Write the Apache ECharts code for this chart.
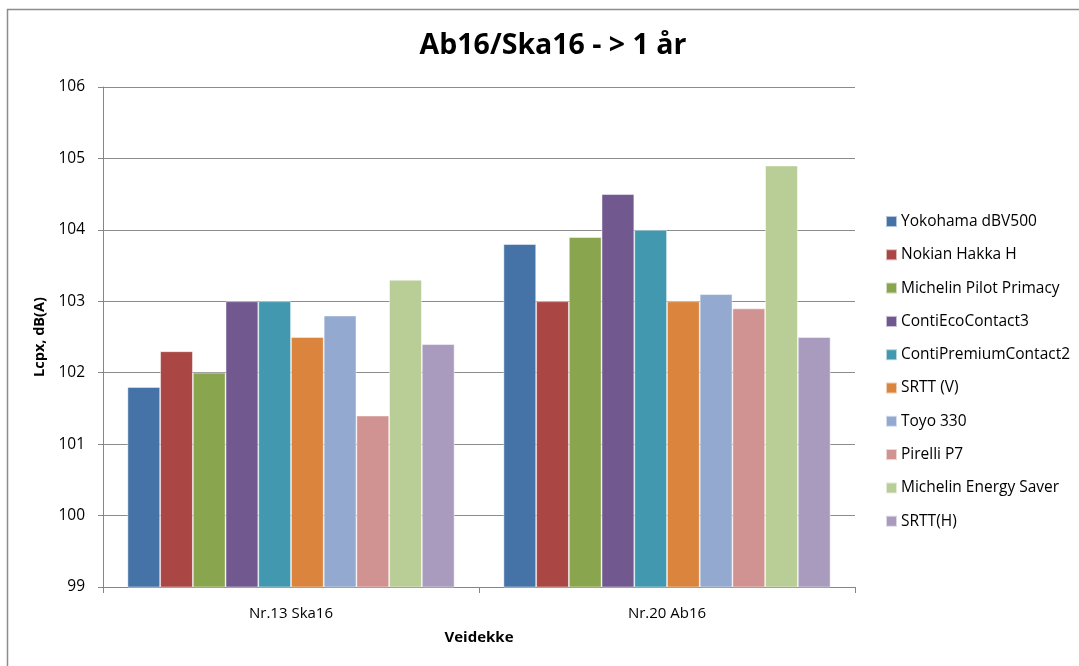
<!DOCTYPE html>
<html>
<head>
<meta charset="utf-8">
<style>
  html, body { margin: 0; padding: 0; background: #fff; }
  #chart { width: 1079px; height: 666px; }
</style>
<script src="https://cdn.jsdelivr.net/npm/echarts@6/dist/echarts.min.js"></script>
</head>
<body>
<div id="chart"></div>
<script>
// Road sections (x-axis categories)
const categories = ['Nr.13 Ska16', 'Nr.20 Ab16'];

// Tyres, one bar series each
const tyres = [
  'Yokohama dBV500',
  'Nokian Hakka H',
  'Michelin Pilot Primacy',
  'ContiEcoContact3',
  'ContiPremiumContact2',
  'SRTT (V)',
  'Toyo 330',
  'Pirelli P7',
  'Michelin Energy Saver',
  'SRTT(H)'
];

// Lcpx, dB(A) per tyre: [Nr.13 Ska16, Nr.20 Ab16]
const yokohama      = [101.8, 103.8];
const nokian        = [102.3, 103.0];
const pilotPrimacy  = [102.0, 103.9];
const contiEco      = [103.0, 104.5];
const contiPremium  = [103.0, 104.0];
const srttV         = [102.5, 103.0];
const toyo          = [102.8, 103.1];
const pirelli       = [101.4, 102.9];
const energySaver   = [103.3, 104.9];
const srttH         = [102.4, 102.5];

const seriesValues = [yokohama, nokian, pilotPrimacy, contiEco, contiPremium,
                      srttV, toyo, pirelli, energySaver, srttH];

const colors = ['#4572A7', '#AA4643', '#89A54E', '#71588F', '#4198AF',
                '#DB843D', '#93A9CF', '#D19392', '#B9CD96', '#A99BBD'];

const yMin = 99, yMax = 106, yStep = 1;

const font = 'Open Sans, Liberation Sans, sans-serif';
const gray = '#868686';

const chart = echarts.init(document.getElementById('chart'), null, { renderer: 'canvas' });

chart.setOption({
  animation: false,
  color: colors,
  title: {
    text: 'Ab16/Ska16 - > 1 år',
    left: 548,
    top: 26,
    textAlign: 'center',
    textStyle: { fontFamily: font, fontSize: 28.5, fontWeight: 'bold', color: '#000' }
  },
  grid: { left: 103, top: 87, width: 752, height: 500, containLabel: false },
  legend: {
    orient: 'vertical',
    left: 885,
    top: 213,
    padding: 0,
    itemWidth: 11,
    itemHeight: 11,
    itemGap: 16.3,
    icon: 'rect',
    data: tyres,
    textStyle: { fontFamily: font, fontSize: 15.5, color: '#000', lineHeight: 17, padding: [0, 0, 0, -1] }
  },
  xAxis: {
    type: 'category',
    data: categories,
    name: 'Veidekke',
    nameLocation: 'middle',
    nameGap: 43,
    nameTextStyle: { fontFamily: font, fontSize: 15, fontWeight: 'bold', color: '#000' },
    axisLine: { lineStyle: { color: gray, width: 1 } },
    axisTick: { show: true, length: 6, lineStyle: { color: gray } },
    axisLabel: { fontFamily: font, fontSize: 15, color: '#000', margin: 19 }
  },
  yAxis: {
    type: 'value',
    min: yMin,
    max: yMax,
    interval: yStep,
    name: 'Lcpx, dB(A)',
    nameLocation: 'middle',
    nameGap: 56,
    nameRotate: 90,
    nameTextStyle: { fontFamily: font, fontSize: 14.5, fontWeight: 'bold', color: '#000' },
    axisLine: { show: true, lineStyle: { color: gray, width: 1 } },
    axisTick: { show: true, length: 5, lineStyle: { color: gray } },
    axisLabel: { fontFamily: font, fontSize: 15.5, color: '#000', margin: 18 },
    splitLine: { show: true, lineStyle: { color: '#8c8c8c', width: 1 } }
  },
  series: tyres.map((name, i) => ({
    name: name,
    type: 'bar',
    data: seriesValues[i],
    barGap: '0%',
    barCategoryGap: '13%',
    itemStyle: { color: colors[i], borderColor: 'rgba(255,255,255,0.6)', borderWidth: 0.8 }
  })),
  graphic: [{
    type: 'rect',
    shape: { x: 7.5, y: 9.5, width: 1090, height: 700 },
    style: { fill: 'none', stroke: '#8c8c8c', lineWidth: 1.5 },
    silent: true
  }]
});
</script>
</body>
</html>
